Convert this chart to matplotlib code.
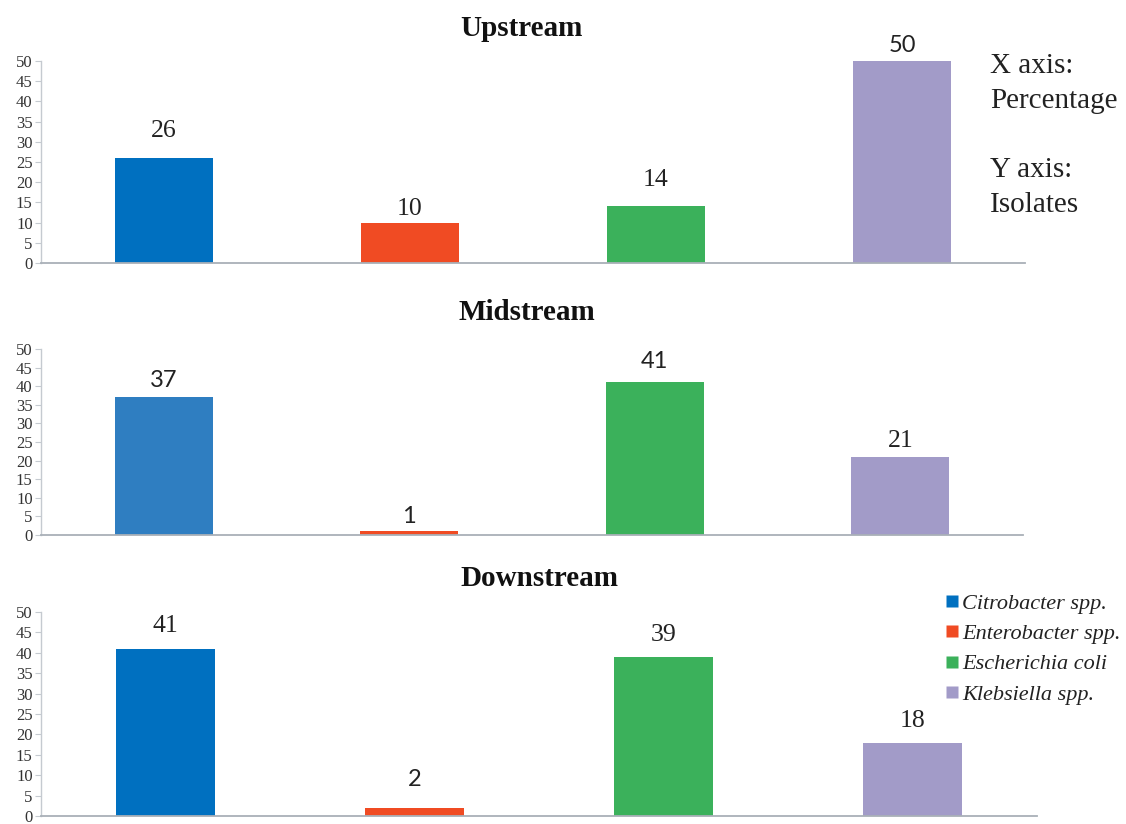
import matplotlib
matplotlib.use("Agg")
import matplotlib.pyplot as plt
from matplotlib.lines import Line2D

# Isolate percentages per sampling site
species = ["Citrobacter spp.", "Enterobacter spp.", "Escherichia coli", "Klebsiella spp."]
sites = ["Upstream", "Midstream", "Downstream"]
upstream = [26, 10, 14, 50]
midstream = [37, 1, 41, 21]
downstream = [41, 2, 39, 18]
yticks = [0, 5, 10, 15, 20, 25, 30, 35, 40, 45, 50]

W, H = 1126, 824
fig = plt.figure(figsize=(W / 100, H / 100), dpi=100)

SERIF = "Liberation Serif"
SANS = "Lato"

def fx(px):
    return px / W

def fy(py):
    return 1 - py / H

# per-panel layout in pixels: left, right, top (value 50), bottom (value 0)
panels = [
    (41, 1025, 61, 263),
    (41, 1023, 349, 535),
    (41, 1037, 612, 816),
]
bar_colors = [
    ["#0070C0", "#F04B23", "#3BB15B", "#A29BC8"],
    ["#2F7EC1", "#F04B23", "#3BB15B", "#A29BC8"],
    ["#0070C0", "#F04B23", "#3BB15B", "#A29BC8"],
]
# label fonts and offsets above each bar (pixels)
label_fonts = [
    [SERIF, SERIF, SERIF, SANS],
    [SANS, SANS, SANS, SERIF],
    [SERIF, SANS, SERIF, SERIF],
]
font_sizes = {SERIF: 18.5, SANS: 17}
label_gaps = [
    [27, 14, 26, 16],
    [17, 15, 21, 16],
    [23, 28, 22, 22],
]
title_pos = [(521, 28), (527, 312), (539, 578)]

series = [upstream, midstream, downstream]
x = list(range(len(species)))

for i, (vals, (l, r, t, b)) in enumerate(zip(series, panels)):
    ax = fig.add_axes([fx(l), fy(b), (r - l) / W, (b - t) / H])
    ax.bar(x, vals, width=0.4, color=bar_colors[i], edgecolor="none")
    ax.set_xlim(-0.5, 3.5)
    ax.set_ylim(0, 50)
    ax.set_yticks(yticks)
    ax.set_yticklabels([str(v) for v in yticks], fontfamily=SERIF, fontsize=12,
                       color="#333333")
    ax.set_xticks([])
    for side in ("top", "right"):
        ax.spines[side].set_visible(False)
    ax.spines["left"].set_color("#C5CAD0")
    ax.spines["bottom"].set_color("#A9B0B8")
    ax.spines["left"].set_linewidth(1.0)
    ax.spines["bottom"].set_linewidth(1.3)
    ax.tick_params(axis="y", length=4, width=0.8, color="#C5CAD0", pad=2)
    for j, v in enumerate(vals):
        fam = label_fonts[i][j]
        ax.annotate(str(v), (x[j], v), xytext=(0, label_gaps[i][j] * 0.72),
                    textcoords="offset points", ha="center", va="center",
                    fontsize=font_sizes[fam], fontfamily=fam, color="#222222")
    tx, ty = title_pos[i]
    fig.text(fx(tx), fy(ty), sites[i], ha="center", va="center",
             fontfamily=SERIF, fontweight="bold", fontsize=21, color="#111111")

# axis description text at top right
for txt, py in [("X axis:", 66), ("Percentage", 101), ("Y axis:", 170), ("Isolates", 205)]:
    fig.text(fx(990), fy(py), txt, ha="left", va="center", fontfamily=SERIF,
             fontsize=21, color="#222222")

# legend for species colours
handles = [Line2D([], [], marker="s", linestyle="", markersize=8,
                  markerfacecolor=c, markeredgecolor="none")
           for c in bar_colors[0]]
leg = fig.legend(handles, species, loc="upper left",
                 bbox_to_anchor=(fx(934), fy(582)), frameon=False,
                 handlelength=0.6, handletextpad=0.15, labelspacing=0.44,
                 borderpad=0, prop={"family": SERIF, "style": "italic", "size": 16})
for t in leg.get_texts():
    t.set_color("#222222")

fig.savefig("out.png", dpi=100, facecolor="white")
